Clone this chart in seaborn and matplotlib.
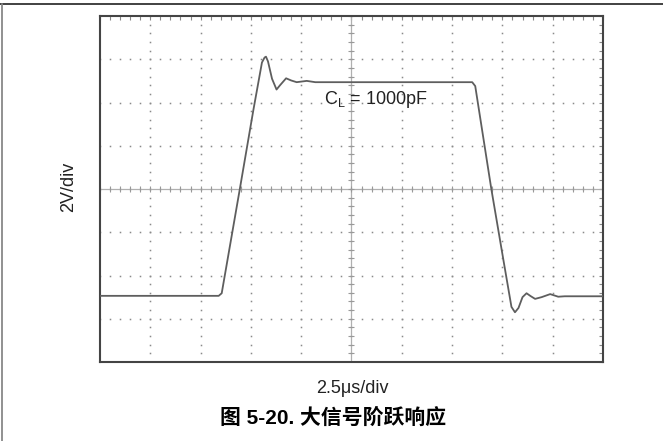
import numpy as np
import pandas as pd
import matplotlib
matplotlib.use("Agg")
import matplotlib.pyplot as plt
from matplotlib.lines import Line2D
import seaborn as sns

# scope settings
T_PER_DIV = 2.5   # us/div
V_PER_DIV = 2.0   # V/div
N_XDIV, N_YDIV = 10, 8

# trace (time in us, voltage in V, 0 V at centre line)
t_us = [0, 5.9, 6.05, 6.95, 7.625, 8.05, 8.18, 8.25, 8.35, 8.55, 8.775, 8.95,
        9.25, 9.5, 9.775, 10.275, 10.7, 18.5, 18.65, 19.45, 20.05, 20.45,
        20.625, 20.8, 21.0, 21.2, 21.4, 21.625, 21.95, 22.375, 22.775, 23.1, 25]
v_out = [-4.94, -4.94, -4.82, 0, 3.66, 5.85, 6.08, 6.12, 5.9, 5.1, 4.6, 4.8,
         5.12, 5.02, 4.94, 5.0, 4.94, 4.94, 4.76, 0, -3.28, -5.45,
         -5.7, -5.5, -5.0, -4.82, -4.95, -5.08, -5.0, -4.86, -4.98, -4.96, -4.96]

label_x = "2.5\u03bcs/div"
label_y = "2V/div"
note = "C$_\\mathregular{L}$ = 1000pF"
title = "图 5-20. 大信号阶跃响应"

sns.set_style("white")
plt.rcParams["font.family"] = ["Liberation Sans", "Noto Sans CJK SC", "DejaVu Sans"]
plt.rcParams["mathtext.fontset"] = "custom"
plt.rcParams["mathtext.rm"] = "Liberation Sans"

fig = plt.figure(figsize=(6.63, 4.41), dpi=100)
ax = fig.add_axes([0.1508, 0.1791, 0.7587, 0.7846])

t_max = T_PER_DIV * N_XDIV
v_half = V_PER_DIV * N_YDIV / 2
ax.set_xlim(0, t_max)
ax.set_ylim(-v_half, v_half)

# dotted graticule (dots at every minor step)
xminor = np.arange(0, t_max + 1e-9, T_PER_DIV / 5)
yminor = np.arange(-v_half, v_half + 1e-9, V_PER_DIV / 5)
for xm in np.arange(T_PER_DIV, t_max, T_PER_DIV):
    ax.plot(np.full_like(yminor, xm), yminor, ls="none", marker="s",
            ms=1.1, mew=0, color="#8a8a8a", zorder=1)
for ym in np.arange(-v_half + V_PER_DIV, v_half, V_PER_DIV):
    ax.plot(xminor, np.full_like(xminor, ym), ls="none", marker="s",
            ms=1.1, mew=0, color="#8a8a8a", zorder=1)

# centre crosshair with ticks
ax.axhline(0, color="#b0b0b0", lw=0.9, zorder=1)
ax.axvline(t_max / 2, color="#b0b0b0", lw=0.9, zorder=1)
ax.plot(xminor, np.zeros_like(xminor), ls="none", marker="|", ms=5,
        mew=0.8, color="#999999", zorder=1)
ax.plot(np.full_like(yminor, t_max / 2), yminor, ls="none", marker="_", ms=5,
        mew=0.8, color="#999999", zorder=1)

df = pd.DataFrame({"t": t_us, "v": v_out})
sns.lineplot(data=df, x="t", y="v", ax=ax, estimator=None, sort=False,
             color="#5e5e5e", lw=1.3, zorder=3)

ax.text(13.7, 4.12, note, fontsize=13, color="#222222",
        ha="center", va="center")

ax.set_xticks(xminor)
ax.set_yticks(yminor)
ax.tick_params(which="both", direction="in", length=3, width=0.8,
               color="#888888", top=True, right=True,
               labelbottom=False, labelleft=False)
ax.set_xlabel("")
ax.set_ylabel("")
for s in ax.spines.values():
    s.set_color("#444444")
    s.set_linewidth(1.5)

fig.text(0.103, 0.576, label_y, rotation=90, fontsize=13,
         ha="center", va="center", color="#222222")
fig.text(0.531, 0.120, label_x, fontsize=13, ha="center", va="center",
         color="#222222")
fig.text(0.502, 0.052, title, fontsize=15, fontweight="bold",
         ha="center", va="center", color="black")

# page frame (top and left rules only)
fig.add_artist(Line2D([0, 1], [0.991, 0.991], transform=fig.transFigure,
                      color="#333333", lw=1.3))
fig.add_artist(Line2D([0.0025, 0.0025], [0, 0.991], transform=fig.transFigure,
                      color="#888888", lw=1.3))

fig.savefig("out.png", dpi=100)
